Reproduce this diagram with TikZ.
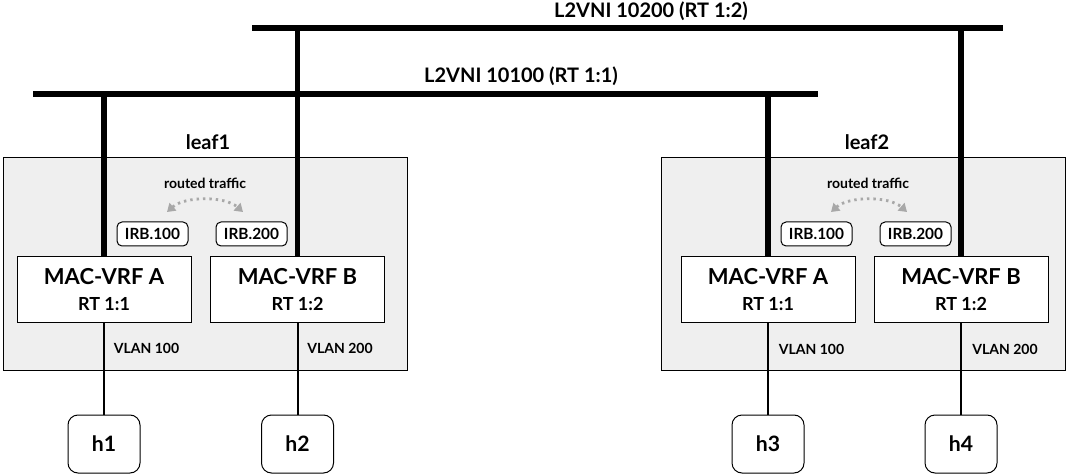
\documentclass[tikz,border=0pt]{standalone}
\usepackage{fontspec}
\setmainfont{Lato}
\usepackage{tikz}
\usetikzlibrary{arrows.meta}
\definecolor{leafgray}{HTML}{EFEFEF}
\definecolor{trafgray}{HTML}{A8A8A8}
\newcommand{\fs}[1]{\fontsize{#1}{#1}\selectfont}

\begin{document}
\begin{tikzpicture}[x=0.5pt,y=-0.5pt,
  leaf/.style={draw, fill=leafgray, line width=0.5pt, minimum width=202pt, minimum height=106pt, inner sep=0pt},
  vrf/.style={draw, fill=white, line width=0.5pt, align=center, minimum width=87pt, minimum height=32.5pt, inner sep=0pt, font=\bfseries\fs{11}},
  irb/.style={draw, fill=white, line width=0.5pt, rounded corners=2.5pt, minimum width=35.5pt, minimum height=12pt, inner sep=0pt, font=\bfseries\fs{7.7}},
  host/.style={draw, fill=white, line width=0.5pt, rounded corners=5pt, minimum width=36pt, minimum height=29pt, inner sep=0pt, font=\bfseries\fs{10.6}},
  bus/.style={line width=2.6pt},
  link/.style={line width=1pt},
  lab/.style={font=\bfseries\fs{7}, inner sep=1pt},
  ttl/.style={font=\bfseries\fs{10}, inner sep=1pt},
  traf/.style={trafgray, line width=1.4pt, dash pattern=on 1.2pt off 2pt, {Triangle[length=4pt,width=5pt]}-{Triangle[length=4pt,width=5pt]}}]
\useasboundingbox (0,0) rectangle (1068,475);
% leaf boxes
\node[leaf] (L1) at (205,264) {};
\node[leaf] (L2) at (863,264) {};
\node[ttl] at (208,142) {leaf1};
\node[ttl] at (867,142) {leaf2};
% mac-vrfs
\node[vrf] (A1) at (104,289.5) {MAC-VRF A\\[2pt]{\fs{9}RT 1:1}};
\node[vrf] (B1) at (297.5,289.5) {MAC-VRF B\\[2pt]{\fs{9}RT 1:2}};
\node[vrf] (A2) at (768,289.5) {MAC-VRF A\\[2pt]{\fs{9}RT 1:1}};
\node[vrf] (B2) at (961,289.5) {MAC-VRF B\\[2pt]{\fs{9}RT 1:2}};
\node[irb] (I11) at (152.5,234) {IRB.100};
\node[irb] (I12) at (251.5,234) {IRB.200};
\node[irb] (I21) at (816.5,234) {IRB.100};
\node[irb] (I22) at (915.5,234) {IRB.200};
\node[lab] (R1) at (205,183) {routed traffic};
\node[lab] (R2) at (868,183) {routed traffic};
\coordinate (t11) at (167,212); \coordinate (t12) at (243,212);
\coordinate (t21) at (831,212); \coordinate (t22) at (907,212);
\draw[traf] (t11) .. controls (185,196) and (225,196) .. (t12);
\draw[traf] (t21) .. controls (849,196) and (889,196) .. (t22);
\node[lab] at (146.5,348) {VLAN 100};
\node[lab] at (340,348) {VLAN 200};
\node[lab] at (811.5,349) {VLAN 100};
\node[lab] at (1005,349) {VLAN 200};
% buses
\coordinate (V2w) at (252,28); \coordinate (V2e) at (1003,28);
\coordinate (V1w) at (33,94);  \coordinate (V1e) at (818,94);
\draw[bus] (V2w) -- (V2e);
\draw[bus] (V1w) -- (V1e);
\node[ttl] at (651,11) {L2VNI 10200 (RT 1:2)};
\node[ttl] at (521,76) {L2VNI 10100 (RT 1:1)};
\draw[bus] (A1.north) -- (A1.north |- V1w);
\draw[bus] (B1.north) -- (B1.north |- V2w);
\draw[bus] (A2.north) -- (A2.north |- V1w);
\draw[bus] (B2.north) -- (B2.north |- V2w);
% hosts
\node[host] (H1) at (104,444) {h1};
\node[host] (H2) at (297.5,444) {h2};
\node[host] (H3) at (768,444) {h3};
\node[host] (H4) at (961,444) {h4};
\draw[link] (A1) -- (H1); \draw[link] (B1) -- (H2);
\draw[link] (A2) -- (H3); \draw[link] (B2) -- (H4);
\end{tikzpicture}
\end{document}
